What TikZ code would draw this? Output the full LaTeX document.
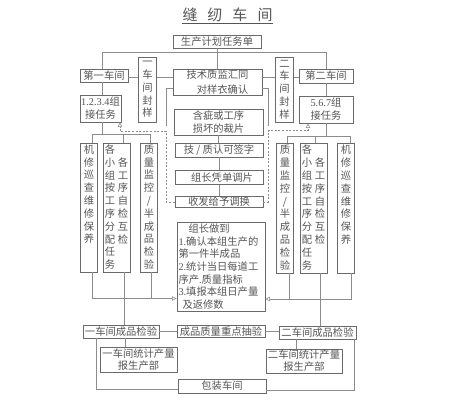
\documentclass[tikz,border=0pt]{standalone}
\usepackage{fontspec}
\setmainfont{Noto Sans CJK SC}
\newfontfamily\latn{Liberation Serif}
\usetikzlibrary{arrows.meta}
\definecolor{linec}{HTML}{8C8C8C}
\definecolor{boxc}{HTML}{6A6A6A}
\definecolor{txtc}{HTML}{555555}
\begin{document}
\begin{tikzpicture}[x=1pt,y=-1pt,
  box/.style={draw=boxc, line width=0.9pt, inner sep=0pt, text=txtc, align=center, font=\fontsize{10.3}{13}\selectfont},
  colbox/.style={draw=boxc, line width=0.9pt, inner sep=0pt},
  vtxt/.style={inner sep=0pt, text=txtc, align=center, anchor=north, font=\fontsize{10.3}{12.8}\selectfont},
  ln/.style={draw=linec, line width=0.6pt},
  dl/.style={draw=linec, line width=0.6pt, dash pattern=on 2pt off 1.6pt},
  tip/.style={-{Triangle[open,length=4.5pt,width=4.5pt]}}
]
\fill[white] (0,0) rectangle (449,408);
\useasboundingbox (0,0) rectangle (449,408);

% title
\node[text=txtc, font=\fontsize{15}{15}\selectfont, inner sep=0pt] (title) at (227.5,15) {缝\hspace{10pt}纫\hspace{10pt}车\hspace{10pt}间};
\draw[draw=txtc, line width=0.7pt] ([yshift=-1.5pt]title.south west) -- ([yshift=-1.5pt]title.south east);

% top row
\node[box, minimum width=88pt, minimum height=13pt] (plan) at (217,41.5) {生产计划任务单};
\node[box, minimum width=89pt, minimum height=26pt, font=\fontsize{10.3}{14.5}\selectfont] (jishu) at (217.5,82) {技术质监汇同\\\hspace*{10pt}对样衣确认};
\node[box, minimum width=89pt, minimum height=26pt] (hanci) at (218.5,122) {含疵或工序\\损坏的裁片};
\node[box, minimum width=88pt, minimum height=14pt] (jizhi) at (219,150) {技 / 质认可签字};
\node[box, minimum width=88pt, minimum height=14.5pt] (zuzhang) at (219,177.5) {\hspace*{6pt}组长凭单调片};
\node[box, minimum width=88pt, minimum height=11.5pt] (shoufa) at (219,202) {收发给予调换};
\node[box, minimum width=88pt, minimum height=89pt, text width=85pt, inner xsep=1.5pt, align=left, font=\fontsize{10.3}{12.7}\selectfont] (zuozhangdao) at (221,266.5)
  {\hspace*{10pt}组长做到\\{\latn 1.}确认本组生产的\\第一件半成品\\{\latn 2.}统计当日每道工\\序产{\latn .}质量指标\\{\latn 3.}填报本组日产量\\\hspace*{4pt}及返修数};

\node[box, minimum width=17.5pt, minimum height=65pt, font=\fontsize{10.3}{12.8}\selectfont] (fengyang1) at (147.5,89.5) {一\\车\\间\\封\\样};
\node[box, minimum width=17.5pt, minimum height=65pt, font=\fontsize{10.3}{12.8}\selectfont] (fengyang2) at (284.5,89.5) {二\\车\\间\\封\\样};
\node[box, minimum width=48pt, minimum height=13pt] (chejian1) at (104,75.5) {第一车间};
\node[box, minimum width=54pt, minimum height=14pt] (chejian2) at (326,76) {第二车间};
\node[box, minimum width=41pt, minimum height=27pt] (renwu1) at (100.5,108.5) {{\latn 1.2.3.4}组\\接任务};
\node[box, minimum width=54pt, minimum height=27pt] (renwu2) at (326,109.5) {{\latn 5.6.7}组\\接任务};

% left columns
\node[colbox, minimum width=16.5pt, minimum height=129pt] (jixiu1) at (89,207.5) {};
\node[vtxt] (tjx1) at (89,144.5) {机\\修\\巡\\查\\维\\修\\保\\养};
\node[colbox, minimum width=27pt, minimum height=129pt] (gexiao1) at (116.5,207.5) {};
\node[vtxt] (tgx1a) at (110,144.5) {各\\小\\组\\按\\工\\序\\分\\配\\任\\务};
\node[vtxt] (tgx1b) at (123,157.3) {各\\工\\序\\自\\检\\互\\检};
\node[colbox, minimum width=16.5pt, minimum height=129pt] (zhiliang1) at (149,207.5) {};
\node[vtxt] (tzl1) at (149,144.5) {质\\量\\监\\控\\/\\半\\成\\品\\检\\验};

% right columns
\node[colbox, minimum width=16.5pt, minimum height=130pt] (zhiliang2) at (285,208) {};
\node[vtxt] (tzl2) at (285,145) {质\\量\\监\\控\\/\\半\\成\\品\\检\\验};
\node[colbox, minimum width=27pt, minimum height=130pt] (gexiao2) at (313.5,208) {};
\node[vtxt] (tgx2a) at (307,145) {各\\小\\组\\按\\工\\序\\分\\配\\任\\务};
\node[vtxt] (tgx2b) at (320,157.8) {各\\工\\序\\自\\检\\互\\检};
\node[colbox, minimum width=16.5pt, minimum height=130pt] (jixiu2) at (346,208) {};
\node[vtxt] (tjx2) at (346,145) {机\\修\\巡\\查\\维\\修\\保\\养};

% bottom
\node[box, minimum width=76pt, minimum height=13pt] (jianyan1) at (121,331.5) {一车间成品检验};
\node[box, minimum width=88pt, minimum height=12.5pt] (choujian) at (221,331.5) {成品质量重点抽验};
\node[box, minimum width=77pt, minimum height=13pt] (jianyan2) at (317.5,332.5) {二车间成品检验};
\node[box, minimum width=77pt, minimum height=25pt, font=\fontsize{10.3}{12}\selectfont] (tongji1) at (138.5,359.5) {一车间统计产量\\报生产部};
\node[box, minimum width=76pt, minimum height=24pt, font=\fontsize{10.3}{12}\selectfont] (tongji2) at (304,361) {二车间统计产量\\报生产部};
\node[box, minimum width=88pt, minimum height=14pt] (baozhuang) at (222,386) {包装车间};

% coordinates
\coordinate (vx1) at (102,52);
\coordinate (vx2) at (326,52);
\coordinate (yA) at (0,77.5);
\coordinate (l1) at (92,134.5);
\coordinate (l2) at (123,134.5);
\coordinate (l3) at (150,134.5);
\coordinate (t1) at (102,134.5);
\coordinate (r0) at (326,136);
\coordinate (r1) at (287,136);
\coordinate (r2) at (315,136);
\coordinate (r3) at (350,136);
\coordinate (fL1) at (166,88);
\coordinate (fL1b) at (166,126);
\coordinate (fL2) at (166,131);
\coordinate (fL3) at (120,131);
\coordinate (fR1) at (268,88);
\coordinate (fR1b) at (268,126);
\coordinate (fR2) at (268,130.5);
\coordinate (fR3) at (308,130.5);
\coordinate (b1) at (92,298.5);
\coordinate (b2) at (124,0);
\coordinate (b3) at (151,298.5);
\coordinate (c1) at (289,299);
\coordinate (c2) at (320,0);
\coordinate (c3) at (351,299);
\coordinate (e1) at (125,0);
\coordinate (e2) at (96,389);
\coordinate (e3) at (296,0);
\coordinate (e4) at (354,390);

% top connectors
\draw[ln] (plan.south) -- (plan.south |- jishu.north);
\draw[ln] (vx1 |- chejian1.north) -- (vx1) -- (vx2) -- (vx2 |- chejian2.north);
\draw[ln] (chejian1.east |- yA) -- (fengyang1.west |- yA);
\draw[ln] (fengyang1.east |- yA) -- (jishu.west |- yA);
\draw[ln] (jishu.east |- yA) -- (fengyang2.west |- yA);
\draw[ln] (fengyang2.east |- yA) -- (chejian2.west |- yA);
\draw[ln] (vx1 |- chejian1.south) -- (vx1 |- renwu1.north);
\draw[ln] (chejian2.south) -- (renwu2.north);

% trees to columns
\draw[ln] (t1 |- renwu1.south) -- (t1);
\draw[ln] (l1 |- jixiu1.north) -- (l1) -- (l3) -- (l3 |- zhiliang1.north);
\draw[ln] (l2) -- (l2 |- gexiao1.north);
\draw[ln] (renwu2.south) -- (r0);
\draw[ln] (r1 |- zhiliang2.north) -- (r1) -- (r3) -- (r3 |- jixiu2.north);
\draw[ln] (r2) -- (r2 |- gexiao2.north);

% feedback loops
\draw[ln] (jishu.west |- fL1) -- (fL1) -- (fL1b);
\draw[dl, tip] (shoufa.west) -- (shoufa.west -| fL2) -- (fL2) -- (fL3) -- (fL3 |- renwu1.south);
\draw[ln] (jishu.east |- fR1) -- (fR1) -- (fR1b);
\draw[dl, tip] (shoufa.east) -- (shoufa.east -| fR2) -- (fR2) -- (fR3) -- (fR3 |- renwu2.south);

% center chain
\draw[ln] (hanci.south) -- (hanci.south |- jizhi.north);
\draw[ln] (jizhi.south) -- (jizhi.south |- zuzhang.north);
\draw[ln] (zuzhang.south) -- (zuzhang.south |- shoufa.north);

% bottom connectors
\draw[ln, tip] (b1 |- jixiu1.south) -- (b1) -- (zuozhangdao.west |- b1);
\draw[ln] (b3 |- zhiliang1.south) -- (b3);
\draw[ln] (b2 |- gexiao1.south) -- (b2 |- jianyan1.north);
\draw[ln, tip] (c3 |- jixiu2.south) -- (c3) -- (zuozhangdao.east |- c3);
\draw[ln] (c1 |- zhiliang2.south) -- (c1);
\draw[ln] (c2 |- gexiao2.south) -- (c2 |- jianyan2.north);
\draw[ln] (jianyan1.east) -- (choujian.west |- jianyan1.east);
\draw[ln] (choujian.east) -- (jianyan2.west |- choujian.east);
\draw[ln] (e1 |- jianyan1.south) -- (e1 |- tongji1.north);
\draw[ln] (e2 |- jianyan1.south) -- (e2) -- (baozhuang.west |- e2);
\draw[ln] (e3 |- jianyan2.south) -- (e3 |- tongji2.north);
\draw[ln] (e4 |- jianyan2.south) -- (e4) -- (baozhuang.east |- e4);
\end{tikzpicture}
\end{document}
